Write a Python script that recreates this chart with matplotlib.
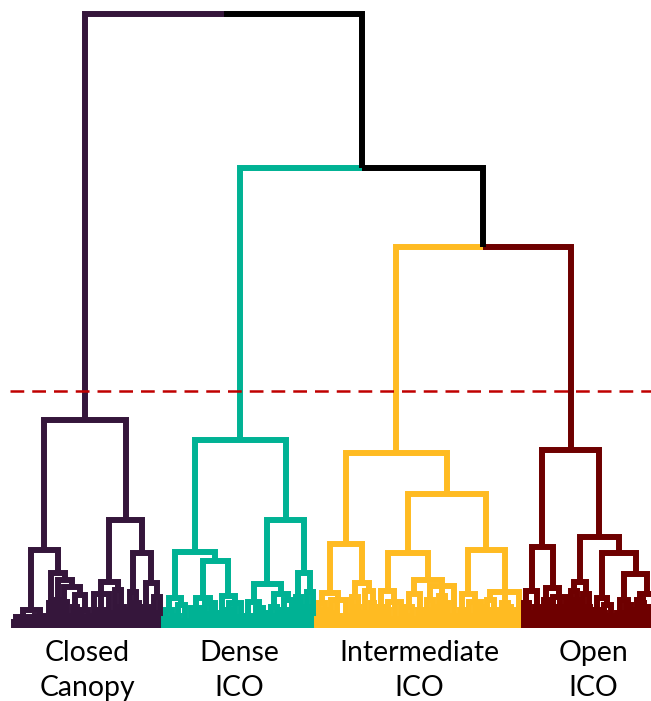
import re
import matplotlib
matplotlib.use("Agg")
import matplotlib.pyplot as plt
from matplotlib.collections import LineCollection

# Cluster subtrees in a small Newick-like form: "*" is a sample,
# "(a,b,...)h" joins children at height h.
closed_canopy = (
    "(((((*,*)0.1,(*,*,*)0.12,(*,*)0.06)0.18,(*,(*,*)0.08,*)0.2)0.29,"
    "(((*,*)0.15,*)0.41,((*,*)0.45,((*,(*,*)0.2)0.42,(((*,*)0.12,*)0.35,((*,*)0.18,(*,*)0.1)0.3)0.54)0.67)0.78)0.9)1.27,"
    "((((*,*)0.2,(*,*,*)0.3,(*,*)0.25)0.55,((*,*)0.25,(*,(*,*)0.15)0.35)0.62)0.75,"
    "(((*,*)0.3,(*,(*,*)0.15)0.4)0.59,((*,*,*)0.35,((*,*)0.25,(*,*)0.1)0.5)0.73)1.22)1.76)3.39"
)
dense_ico = (
    "(((((*,*)0.15,(*,*)0.08)0.3,((*,*)0.2,(*,*,*)0.12)0.38)0.49,"
    "(((*,(*,*)0.1,*)0.32,((*,*)0.22,(*,*)0.15,*)0.4)0.49,"
    "(((*,*)0.1,*)0.25,((*,*)0.3,(*,*)0.18,(*,*)0.05)0.4)0.52)1.09)1.24,"
    "((((*,*,*)0.2,((*,*)0.15,(*,*,*)0.25)0.32)0.42,"
    "(((*,*)0.2,(*,*)0.1)0.35,((*,*,*)0.3,(*,*)0.2)0.45)0.55)0.72,"
    "((*,(*,*)0.3)0.5,((*,*)0.35,(*,*)0.2)0.58)0.9)1.76)3.06"
)
intermediate_ico = (
    "(((((*,*)0.15,(*,*)0.3)0.4,((*,*)0.25,(*,(*,*)0.1)0.2,(*,*)0.15)0.45)0.57,"
    "(((*,*)0.2,(*,*)0.35)0.5,((*,*,*)0.25,(*,*)0.4)0.6)0.73)1.37,"
    "(((((*,*)0.2,*)0.35,((*,*)0.3,(*,*,*)0.15,*)0.42)0.6,"
    "((((*,*)0.2,(*,*)0.1)0.35,((*,*)0.15,*)0.3)0.55,(((*,*)0.25,(*,*)0.3)0.45,((*,*)0.35,(*,(*,*)0.2)0.4)0.52,(*,*)0.2)0.68)0.78)1.22,"
    "((((*,*)0.15,*)0.3,((*,*)0.2,(*,*)0.1,(*,*)0.35)0.42)0.55,"
    "(((*,*)0.2,(*,*,*)0.3)0.45,((*,*)0.15,(*,(*,*)0.25)0.35)0.4,((*,*)0.1,*)0.3)0.59)1.27)2.18)2.85"
)
open_ico = (
    "((((*,(*,*)0.2)0.4,((*,*)0.25,*)0.35)0.6,"
    "(((*,*)0.3,*)0.45,((*,*)0.2,(*,*,*)0.35,*)0.5)0.65)1.32,"
    "((((*,*)0.3,(*,*)0.45)0.6,((*,*)0.2,(*,*)0.35)0.55)0.75,"
    "((((*,*)0.15,*)0.3,((*,*)0.25,(*,*,*)0.2)0.38)0.49,"
    "(((*,*,*)0.25,(*,(*,*)0.3)0.38)0.45,"
    "(((*,*)0.2,(*,*)0.4)0.45,((*,*)0.3,(*,*,*)0.15,*)0.35)0.55)0.88)1.22)1.48)2.9"
)

cluster_trees = [closed_canopy, dense_ico, intermediate_ico, open_ico]
cluster_labels = ["Closed\nCanopy", "Dense\nICO", "Intermediate\nICO", "Open\nICO"]
cluster_colors = ["#35163b", "#00b294", "#ffbb22", "#6e0000"]
# heights joining the clusters, right to left
merge_heights = [6.21, 7.49, 10.0]
cut_height = 3.86


def parse(tokens):
    tok = next(tokens)
    if tok == "*":
        return None
    kids = [parse(tokens)]
    while next(tokens) == ",":
        kids.append(parse(tokens))
    return kids, float(next(tokens))


def place(node, segs, leaves):
    # returns (x, height) of node, adds its links to segs
    if node is None:
        x = len(leaves)
        leaves.append(x)
        return x, 0.0
    kids, h = node
    pts = [place(k, segs, leaves) for k in kids]
    x = (pts[0][0] + pts[-1][0]) / 2
    for cx, ch in pts:
        segs.append([(cx, ch), (cx, h), (x, h)])
    return x, h


fig = plt.figure(figsize=(6.51, 7.01), dpi=100)
ax = fig.add_axes([0, 0, 1, 1])
ax.axis("off")

segs = {c: [] for c in cluster_colors + ["black"]}
leaves = []
roots = []
centers = []
for tree, color in zip(cluster_trees, cluster_colors):
    first = len(leaves)
    node = parse(iter(re.findall(r"[(),*]|\d+(?:\.\d+)?", tree)))
    roots.append(place(node, segs[color], leaves))
    centers.append((first + len(leaves) - 1) / 2)

# join clusters above the cut
x, h = roots[-1]
col = cluster_colors[-1]
for (lx, lh), lc, mh in zip(roots[-2::-1], cluster_colors[-2::-1], merge_heights):
    mx = (lx + x) / 2
    segs[lc].append([(lx, lh), (lx, mh), (mx, mh)])
    segs[col].append([(x, h), (x, mh), (mx, mh)])
    x, h, col = mx, mh, "black"

for color, lines in segs.items():
    ax.add_collection(LineCollection(lines, colors=color, linewidths=4.3,
                                     joinstyle="miter", capstyle="butt"))

ax.axhline(cut_height, xmin=0.015, xmax=1.0, color="#c00000", lw=1.8,
           dashes=(5.5, 3.2))

for cx, label in zip(centers, cluster_labels):
    ax.text(cx, -0.69, label, ha="center", va="center", fontsize=20.4,
            family="Lato", color="black", linespacing=1.42)

ax.set_xlim(-14 / 3, -14 / 3 + 651 / 3)
ax.set_ylim(-73 / 61.4, -73 / 61.4 + 701 / 61.4)

fig.savefig("out.png", dpi=100)
